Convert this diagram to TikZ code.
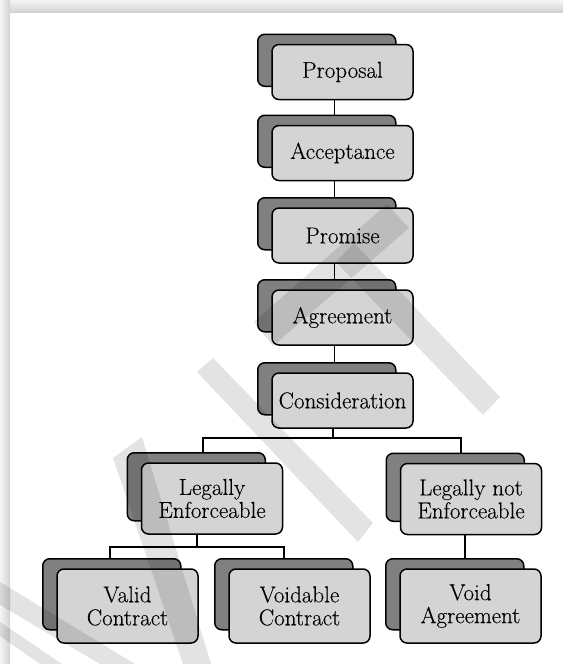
\documentclass[tikz,border=0pt]{standalone}
\usepackage{fontspec}
\setmainfont{Latin Modern Roman}[FakeBold=0.2]
\usetikzlibrary{calc}
\definecolor{boxlight}{RGB}{212,212,212}
\definecolor{boxdark}{RGB}{128,128,128}
\tikzset{
  frontbox/.style={draw=black, line width=1.5pt, fill=boxlight, rounded corners=7pt,
    minimum width=141pt, align=center, inner sep=0pt, text=black,
    font=\fontsize{23}{23}\selectfont},
  backbox/.style={draw=black, line width=1.5pt, fill=boxdark, rounded corners=7pt,
    minimum width=138pt, inner sep=0pt},
  link/.style={draw=black, line width=1.3pt},
  wm/.style={fill=black, fill opacity=0.11},
}
% \card{name}{x}{y}{height}{text}: a front card centred at (x,y) with a dark card behind it
\newcommand\card[5]{%
  \node[backbox, minimum height={(#4-3)*1pt}, anchor=north west] (#1-b)
    at ({#2-85.5}, {#3-#4/2-11}) {};
  \node[frontbox, minimum height={#4*1pt}] (#1) at (#2,#3) {#5};
}
\begin{document}
\begin{tikzpicture}[x=1pt, y=-1pt]
  \useasboundingbox (0,0) rectangle (563,664);
  % page with a soft shadow along the top and left edges
  \fill[white] (0,0) rectangle (563,664);
  \shade[top color=gray!8, bottom color=gray!35] (0,0) rectangle (563,12);
  \shade[left color=gray!8, right color=gray!35] (0,0) rectangle (10,664);

  % main chain
  \card{prop}{342.5}{72}{55}{Proposal}
  \card{acc}{342.5}{153}{55}{Acceptance}
  \card{prom}{342.5}{235.5}{55}{Promise}
  \card{agr}{342.5}{317.5}{55}{Agreement}
  \card{cons}{342.5}{400.5}{55}{Consideration}

  % second level
  \card{le}{212}{498.5}{71}{Legally\\Enforceable}
  \card{lne}{471}{499}{71}{Legally not\\Enforceable}

  % third level
  \card{valid}{127.5}{606}{74}{Valid\\Contract}
  \card{voidable}{299.5}{606}{74}{Voidable\\Contract}
  \card{void}{470.5}{606}{74}{Void\\Agreement}

  % connectors of the chain
  \coordinate (chainaxis) at (334.5,0);
  \draw[link] (prop.south -| chainaxis) -- (acc-b.north -| chainaxis);
  \draw[link] (acc.south -| chainaxis) -- (prom-b.north -| chainaxis);
  \draw[link] (prom.south -| chainaxis) -- (agr-b.north -| chainaxis);
  \draw[link] (agr.south -| chainaxis) -- (cons-b.north -| chainaxis);

  % split under Consideration
  \coordinate (busM) at (333,438);
  \coordinate (busL) at (203,438);
  \coordinate (busR) at (461,438);
  \draw[link] (cons.south -| busM) -- (busM);
  \draw[link] (le-b.north -| busL) -- (busL) -- (busR) -- (lne-b.north -| busR);

  % split under Legally Enforceable
  \coordinate (subM) at (197,547);
  \coordinate (subL) at (110,547);
  \coordinate (subR) at (284,547);
  \draw[link] (le.south -| subM) -- (subM);
  \draw[link] (valid-b.north -| subL) -- (subL) -- (subR) -- (voidable-b.north -| subR);

  % Legally not Enforceable to Void Agreement
  \coordinate (voidaxis) at (465,546);
  \draw[link] (lne.south -| voidaxis) -- (void-b.north -| voidaxis);

  % faint diagonal watermark strokes laid over the chart
  \fill[wm] (387,204) -- (409,228) -- (273,346) -- (254,322) -- cycle;
  \fill[wm] (336,262) -- (354,243) -- (500,397) -- (483,415) -- cycle;
  \fill[wm] (197,372) -- (213,358) -- (373,523) -- (358,542) -- cycle;
  \fill[wm] (113,458) -- (142,437) -- (211,664) -- (183,664) -- cycle;
  \fill[wm] (0,582) -- (135,664) -- (100,664) -- (0,605) -- cycle;
  \fill[wm] (0,622) -- (62,664) -- (40,664) -- (0,636) -- cycle;
\end{tikzpicture}
\end{document}
